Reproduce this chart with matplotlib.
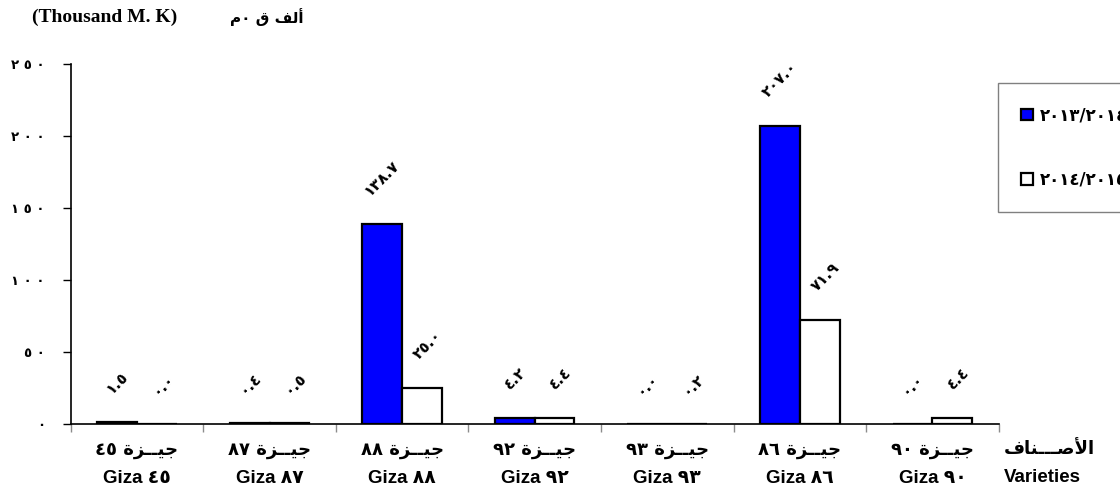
import matplotlib.pyplot as plt
import numpy as np
from matplotlib.patches import Patch

# Data
varieties = ['45', '87', '88', '92', '93', '86', '90']
season_2013 = [1.5, 0.4, 138.7, 4.2, 0.0, 207.0, 0.0]
season_2014 = [0.0, 0.5, 25.0, 4.4, 0.2, 71.9, 4.4]
seasons = ['2013/2014', '2014/2015']
y_ticks = [0, 50, 100, 150, 200, 250]

AR_DIGITS = str.maketrans('0123456789', '٠١٢٣٤٥٦٧٨٩')

def ar(s):
    return str(s).translate(AR_DIGITS)

# Arabic words written in visual (left to right) order with presentation forms
GIZA_AR = '\uFE93\uFEB0\u0640\u0640\uFEF4\uFE9F'                      # جيــزة
ASNAF_AR = '\uFED1\uFE8E\uFEE8\u0640\u0640\u0640\uFEBB\uFEF7\uFE8D'    # الأصـــناف
UNIT_AR = '\uFEE1\u0660 \uFED5 \uFED2\uFEDF\uFE83'                    # ألف ق٠م

AR_FONT = ['DejaVu Sans']
LAT_FONT = ['Liberation Sans', 'DejaVu Sans']

fig = plt.figure(figsize=(11.2, 4.98), dpi=100)
ax = fig.add_axes([0.0631, 0.1486, 0.8286, 0.7229])

x = np.arange(len(varieties))
w = 0.30
b1 = ax.bar(x - w / 2, season_2013, w, color='#0000FF', edgecolor='black', linewidth=1.6)
b2 = ax.bar(x + w / 2, season_2014, w, color='white', edgecolor='black', linewidth=1.6)

# Rotated value labels
for bars, vals, dx in ((b1, season_2013, 0), (b2, season_2014, 6)):
    for rect, v in zip(bars, vals):
        ax.annotate(ar('%.1f' % v), (rect.get_x() + rect.get_width() / 2, v),
                    xytext=(dx, 26), textcoords='offset pixels',
                    ha='center', va='bottom', rotation=45,
                    fontsize=11, fontweight='bold', family=AR_FONT)

ax.set_xlim(-0.5, len(varieties) - 0.5)
ax.set_ylim(0, 250)
ax.set_yticks(y_ticks)
ax.set_yticklabels([' '.join(ar(t)) for t in y_ticks], fontsize=9.5,
                   fontweight='bold', family=AR_FONT)
ax.tick_params(axis='y', length=5.5, width=1, pad=13)

# Category boundaries as ticks, names drawn as two lines of text
ax.set_xticks(np.arange(len(varieties) + 1) - 0.5)
ax.set_xticklabels([])
ax.tick_params(axis='x', length=6, width=1, color='#8c8c8c')

for sp in ('top', 'right'):
    ax.spines[sp].set_visible(False)
ax.spines['left'].set_linewidth(1.2)
ax.spines['bottom'].set_linewidth(1.2)

trans = ax.get_xaxis_transform()
for i, v in enumerate(varieties):
    ax.text(i, -0.072, ar(v) + ' ' + GIZA_AR, transform=trans, ha='center',
            va='center', fontsize=13, fontweight='bold', family=AR_FONT)
    ax.text(i, -0.151, 'Giza ' + ar(v), transform=trans, ha='center',
            va='center', fontsize=13.5, fontweight='bold', family=LAT_FONT)

fig.text(0.896, 1 - 449 / 498, ASNAF_AR, ha='left', va='center',
         fontsize=13, fontweight='bold', family=AR_FONT)
fig.text(0.896, 1 - 478 / 498, 'Varieties', ha='left', va='center',
         fontsize=13.5, fontweight='bold', family=LAT_FONT)

# Unit title
fig.text(32 / 1120, 1 - 17 / 498, '(Thousand M. K)', ha='left', va='center',
         fontsize=14, fontweight='bold', family=['Liberation Serif', 'DejaVu Serif'])
fig.text(230 / 1120, 1 - 17 / 498, UNIT_AR, ha='left', va='center',
         fontsize=11, fontweight='bold', family=AR_FONT)

# Legend, running off the right edge like the original
handles = [Patch(facecolor='#0000FF', edgecolor='black', linewidth=1.6),
           Patch(facecolor='white', edgecolor='black', linewidth=1.6)]
leg = fig.legend(handles, [ar(s) for s in seasons], loc='upper left',
                 bbox_to_anchor=(998 / 1120, 1 - 83 / 498), borderaxespad=0,
                 prop={'family': AR_FONT, 'weight': 'bold', 'size': 12},
                 handlelength=0.7, handleheight=0.7, handletextpad=0.4,
                 labelspacing=2.8, borderpad=1.4, fancybox=False, framealpha=1)
leg.get_frame().set_edgecolor('#808080')
leg.get_frame().set_linewidth(1)

fig.savefig('out.png', dpi=100)
